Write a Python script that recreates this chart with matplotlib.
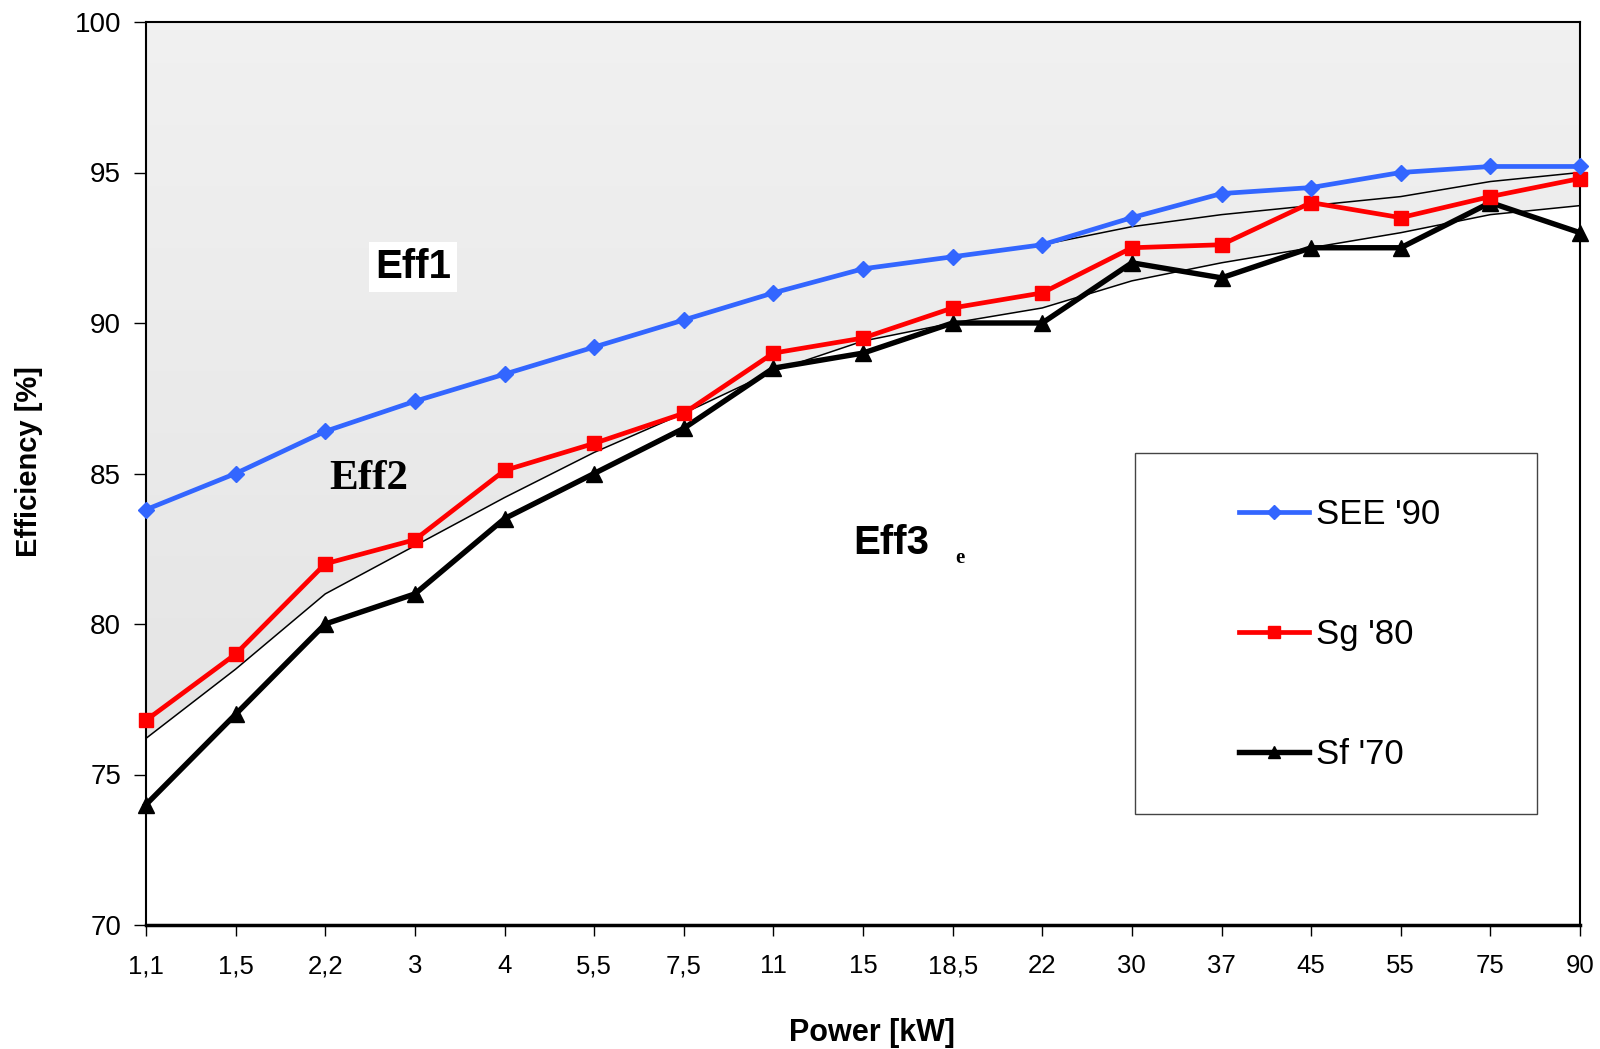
import numpy as np
import matplotlib
matplotlib.use("Agg")
import matplotlib.pyplot as plt
from matplotlib.patches import Polygon, Rectangle

# ---- data ----
power_labels = ["1,1", "1,5", "2,2", "3", "4", "5,5", "7,5", "11", "15", "18,5",
                "22", "30", "37", "45", "55", "75", "90"]
see90 = [83.8, 85.0, 86.4, 87.4, 88.3, 89.2, 90.1, 91.0, 91.8, 92.2,
         92.6, 93.5, 94.3, 94.5, 95.0, 95.2, 95.2]
sg80 = [76.8, 79.0, 82.0, 82.8, 85.1, 86.0, 87.0, 89.0, 89.5, 90.5,
        91.0, 92.5, 92.6, 94.0, 93.5, 94.2, 94.8]
sf70 = [74.0, 77.0, 80.0, 81.0, 83.5, 85.0, 86.5, 88.5, 89.0, 90.0,
        90.0, 92.0, 91.5, 92.5, 92.5, 94.0, 93.0]
eff1_limit = [83.8, 85.0, 86.4, 87.4, 88.3, 89.2, 90.1, 91.0, 91.8, 92.2,
              92.6, 93.2, 93.6, 93.9, 94.2, 94.7, 95.0]
eff2_limit = [76.2, 78.5, 81.0, 82.6, 84.2, 85.7, 87.0, 88.4, 89.4, 90.0,
              90.5, 91.4, 92.0, 92.5, 93.0, 93.6, 93.9]
series_names = ["SEE '90", "Sg '80", "Sf '70"]
y_ticks = [70, 75, 80, 85, 90, 95, 100]

SANS = "Liberation Sans"
SERIF = "Liberation Serif"

fig = plt.figure(figsize=(16, 10.49), dpi=100)
ax = fig.add_axes([146 / 1600, 1 - 925 / 1049, (1580 - 146) / 1600, (925 - 22) / 1049])

x = np.arange(len(power_labels))
ax.set_xlim(0, len(power_labels) - 1)
ax.set_ylim(70, 100)

# ---- gradient grey region (above Eff2/Eff3 boundary) ----
verts = list(zip(x, eff2_limit)) + [(x[-1], 100), (x[0], 100)]
poly = Polygon(verts, closed=True, facecolor="none", edgecolor="none",
               transform=ax.transData)
ax.add_patch(poly)
yy = np.linspace(100, 70, 300)
col = 0.94 - (100 - yy) * 0.0019
grad = np.tile(col[:, None], (1, 10))
im = ax.imshow(grad, extent=[0, len(power_labels) - 1, 70, 100], aspect="auto",
               cmap="gray", vmin=0, vmax=1, origin="upper", zorder=0.5,
               interpolation="bilinear")
im.set_clip_path(poly)

# thin class boundary lines
ax.plot(x, eff1_limit, color="black", lw=1.1, zorder=2)
ax.plot(x, eff2_limit, color="black", lw=1.1, zorder=2)

# ---- series ----
l1, = ax.plot(x, see90, color="#3366FF", lw=3.4, marker="D", ms=8.5,
              zorder=5, clip_on=False)
l3, = ax.plot(x, sf70, color="black", lw=3.9, marker="^", ms=11,
              zorder=4, clip_on=False)
l2, = ax.plot(x, sg80, color="#FF0000", lw=3.4, marker="s", ms=10,
              zorder=4.5, clip_on=False)

# ---- axes styling ----
ax.set_xticks(x)
ax.set_xticklabels(power_labels, fontfamily=SANS, fontsize=18.5)
ax.set_yticks(y_ticks)
ax.set_yticklabels([str(v) for v in y_ticks], fontfamily=SANS, fontsize=20)
ax.tick_params(axis="x", direction="out", length=8, width=1, pad=13, colors="black")
ax.tick_params(axis="y", direction="out", length=9, width=1, pad=9, colors="black")
for s in ["left", "top", "right"]:
    ax.spines[s].set_linewidth(1.5)
ax.spines["bottom"].set_linewidth(2.5)

fig.text(872 / 1600, 1 - 1033 / 1049, "Power [kW]", fontfamily=SANS, fontweight="bold",
         fontsize=22, ha="center", va="center")
fig.text(29 / 1600, 1 - 462 / 1049, "Efficiency [%]", fontfamily=SANS, fontweight="bold",
         fontsize=21, ha="center", va="center", rotation=90)

# ---- class labels ----
ax.text(413 / 1600, 1 - 267 / 1049, "Eff1", transform=fig.transFigure,
        fontfamily=SANS, fontweight="bold", fontsize=29, ha="center", va="center",
        zorder=6, bbox=dict(facecolor="white", edgecolor="none", pad=4))
ax.text(369 / 1600, 1 - 479 / 1049, "Eff2", transform=fig.transFigure,
        fontfamily=SERIF, fontweight="bold", fontsize=31, ha="center", va="center", zorder=6)
ax.text(891 / 1600, 1 - 543 / 1049, "Eff3", transform=fig.transFigure,
        fontfamily=SANS, fontweight="bold", fontsize=29, ha="center", va="center", zorder=6)
ax.text(960 / 1600, 1 - 558 / 1049, "e", transform=fig.transFigure,
        fontfamily=SERIF, fontweight="bold", fontsize=15, ha="center", va="center", zorder=6)

# ---- legend ----
box = Rectangle((1135 / 1600, 1 - 814 / 1049), (1537 - 1135) / 1600, (814 - 453) / 1049,
                transform=fig.transFigure, facecolor="white", edgecolor="#444444",
                lw=1.0, zorder=7)
fig.patches.append(box)
leg = fig.legend([l1, l2, l3], series_names, loc="upper left",
                 bbox_to_anchor=(1222 / 1600, 1 - 481 / 1049), frameon=False,
                 prop={"family": SANS, "size": 25}, handlelength=2.0,
                 handletextpad=0.2, labelspacing=2.5, borderpad=0, markerscale=0.85)
leg.set_zorder(8)

fig.savefig("out.png", dpi=100)
